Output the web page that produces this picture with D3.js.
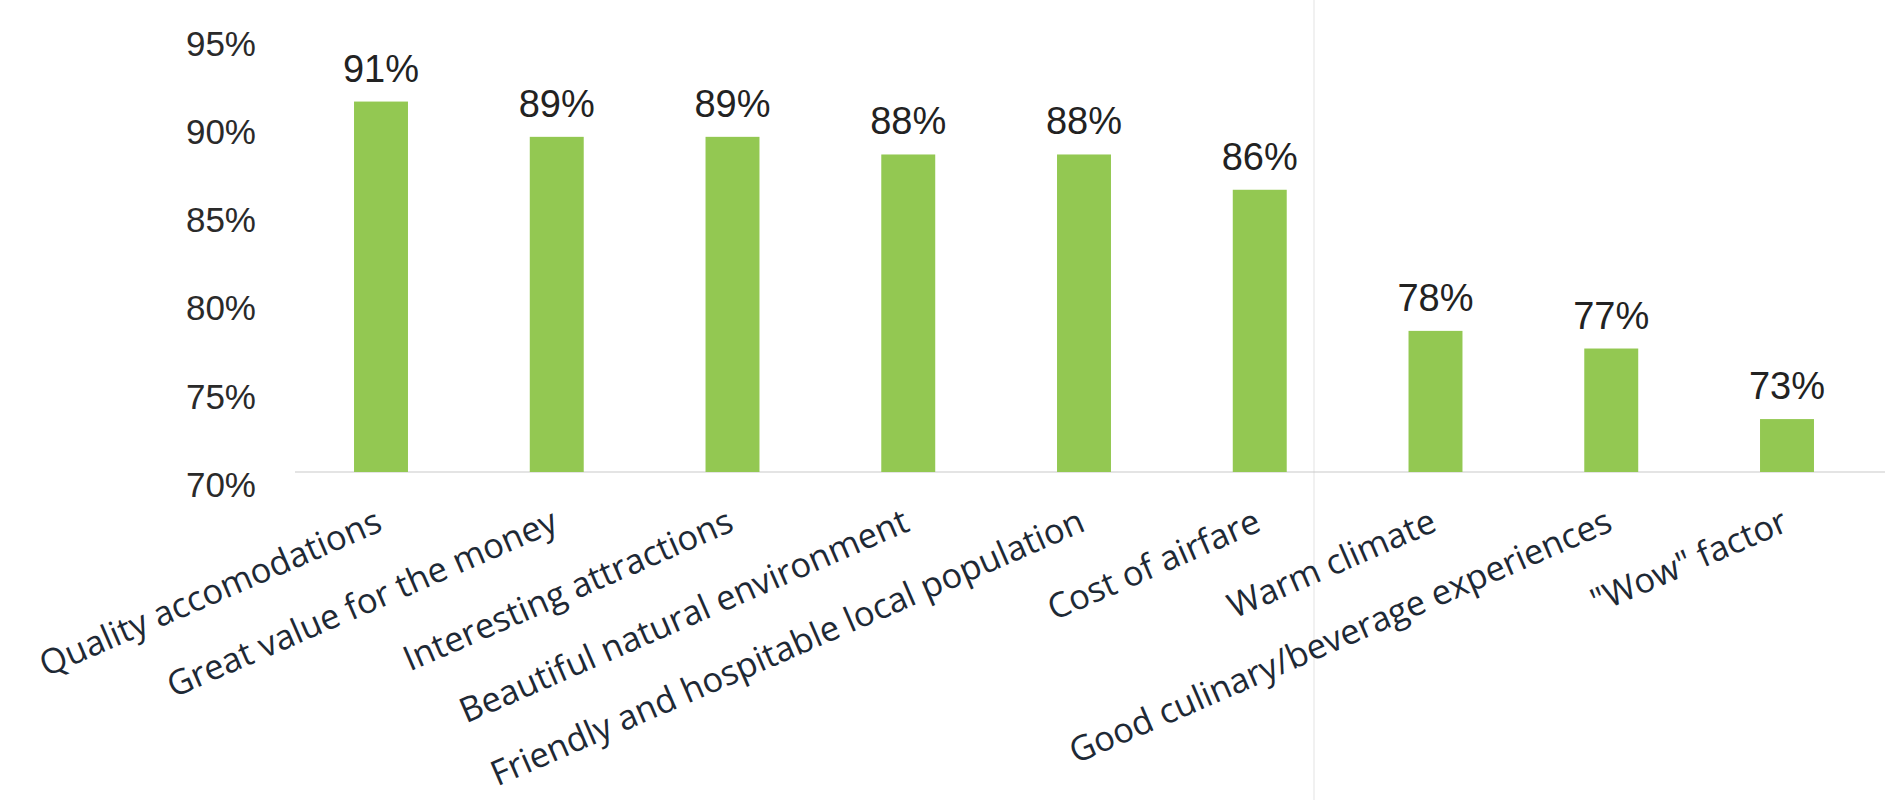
<!DOCTYPE html>
<html>
<head>
<meta charset="utf-8">
<script src="https://cdn.jsdelivr.net/npm/d3@7"></script>
<style>
  html, body { margin: 0; padding: 0; background: #ffffff; }
  svg { display: block; }
</style>
</head>
<body>
<svg id="chart" width="1885" height="800"></svg>
<script>
// Reasons for choosing a destination, share of respondents (%)
const categories = [
  "Quality accomodations",
  "Great value for the money",
  "Interesting attractions",
  "Beautiful natural environment",
  "Friendly and hospitable local population",
  "Cost of airfare",
  "Warm climate",
  "Good culinary/beverage experiences",
  "\"Wow\" factor"
];
const values = [91, 89, 89, 88, 88, 86, 78, 77, 73];
const yTicks = [70, 75, 80, 85, 90, 95];

const svg = d3.select("#chart");

// Scales
const y = d3.scaleLinear().domain([70, 95]).range([472, 31]);
const x = d3.scalePoint().domain(categories).range([381, 1787]);
const barWidth = x.step() * 0.307;

// Faint vertical rule on the page
svg.append("line")
  .attr("x1", 1314).attr("x2", 1314)
  .attr("y1", 0).attr("y2", 800)
  .attr("stroke", "#f1f1f1")
  .attr("stroke-width", 2);

// Baseline gridline at the axis minimum
svg.append("line")
  .attr("x1", 295).attr("x2", 1885)
  .attr("y1", y(70)).attr("y2", y(70))
  .attr("stroke", "#c9c9c9")
  .attr("stroke-width", 1.2);

// Y axis tick labels
const yAxis = d3.axisLeft(y)
  .tickValues(yTicks)
  .tickFormat(d => d + "%")
  .tickSize(0)
  .tickPadding(0);

svg.append("g")
  .attr("transform", "translate(256,13)")
  .call(yAxis)
  .call(g => g.select(".domain").remove())
  .selectAll("text")
  .attr("font-family", "'Liberation Sans', Arial, sans-serif")
  .attr("font-size", 35)
  .attr("fill", "#2a2a2a");

// Bars
svg.append("g")
  .selectAll("rect")
  .data(values)
  .join("rect")
  .attr("x", (d, i) => x(categories[i]) - barWidth / 2)
  .attr("y", d => y(d))
  .attr("width", barWidth)
  .attr("height", d => y(70) - y(d))
  .attr("fill", "#93c852");

// Value labels above bars
svg.append("g")
  .selectAll("text")
  .data(values)
  .join("text")
  .attr("x", (d, i) => x(categories[i]))
  .attr("y", d => y(d) - 20)
  .attr("text-anchor", "middle")
  .attr("font-family", "'Liberation Sans', Arial, sans-serif")
  .attr("font-size", 38)
  .attr("fill", "#222222")
  .text(d => d + "%");

// Category labels, rotated
svg.append("g")
  .selectAll("text")
  .data(categories)
  .join("text")
  .attr("transform", d => `translate(${x(d) + 3},530) rotate(-23.5)`)
  .attr("text-anchor", "end")
  .attr("font-family", "'Open Sans', sans-serif")
  .attr("font-size", 34.5)
  .attr("fill", "#1e2935")
  .text(d => d);
</script>
</body>
</html>
